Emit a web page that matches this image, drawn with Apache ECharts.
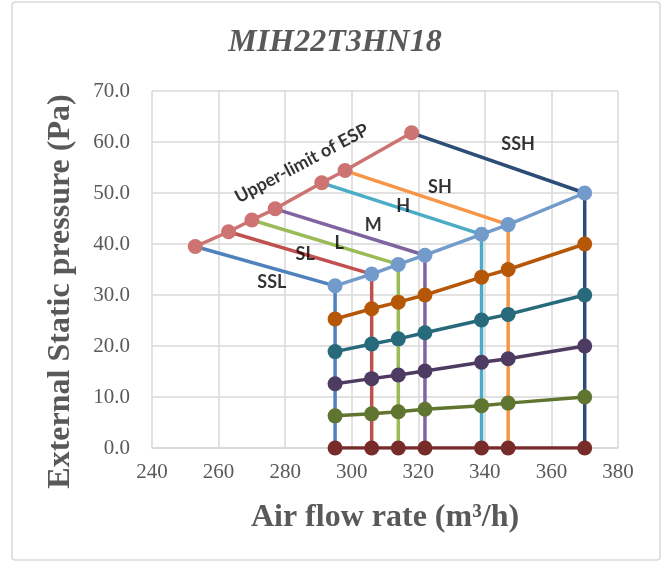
<!DOCTYPE html>
<html>
<head>
<meta charset="utf-8">
<script src="https://cdn.jsdelivr.net/npm/echarts@6/dist/echarts.min.js"></script>
<style>
html, body {margin:0; padding:0; background:#fff;}
#chart {width:670px; height:563px;}
</style>
</head>
<body>
<div id="chart"></div>
<script>
// air flow (m3/h) at each fan step, bottom ends of the speed lines
var flowX = [295, 306, 314, 322, 339, 347, 370]
// upper-limit of ESP points
var upperX = [253, 263, 270, 277, 291, 298, 318]
var upperY = [39.5, 42.4, 44.7, 46.9, 52.0, 54.4, 61.8]
// pressure rows along flowX
var p50 = [31.8, 34.1, 36.0, 37.8, 41.9, 43.8, 50.0]
var p40 = [25.3, 27.3, 28.6, 30.0, 33.5, 35.0, 40.0]
var p30 = [18.9, 20.4, 21.4, 22.6, 25.1, 26.2, 30.0]
var p20 = [12.6, 13.6, 14.3, 15.1, 16.8, 17.5, 20.0]
var p10 = [6.3, 6.7, 7.1, 7.6, 8.3, 8.8, 10.0]
var p0 = [0, 0, 0, 0, 0, 0, 0]

var speeds = ['SSL', 'SL', 'L', 'M', 'H', 'SH', 'SSH']
var speedColors = ['#4F81BD', '#C0504D', '#9BBB59', '#8064A2', '#4BACC6', '#F79646', '#2C4D75']

// annotation positions (data units)
var labelX = [276, 286, 296.2, 306.5, 315.5, 326.5, 350]
var labelY = [32.6, 38.0, 40.2, 43.7, 47.4, 51.1, 59.5]
var espLabel = {text: 'Upper-limit of ESP', x: 285, y: 55.8, rotate: 28}

function pairs(xs, ys){
    var out = []
    for (var i = 0; i < xs.length; i++){
        out.push([xs[i], ys[i]])
    }
    return out
}

var series = []
for (var i = 0; i < speeds.length; i++){
    series.push({
        name: speeds[i],
        type: 'line',
        symbol: 'none',
        lineStyle: {width: 3.5, color: speedColors[i]},
        itemStyle: {color: speedColors[i]},
        data: [[upperX[i], upperY[i]], [flowX[i], p50[i]], [flowX[i], p0[i]]]
    })
}

var rows = [
    {name: '0', ys: p0, color: '#772C2A'},
    {name: '10', ys: p10, color: '#5F7530'},
    {name: '20', ys: p20, color: '#4D3B62'},
    {name: '30', ys: p30, color: '#276A7C'},
    {name: '40', ys: p40, color: '#B65708'},
    {name: '50', ys: p50, color: '#729ACA'}
]
for (var r of rows){
    series.push({
        name: r.name,
        type: 'line',
        symbol: 'circle',
        symbolSize: 15,
        lineStyle: {width: 3.5, color: r.color},
        itemStyle: {color: r.color},
        data: pairs(flowX, r.ys)
    })
}

series.push({
    name: 'upper',
    type: 'line',
    symbol: 'circle',
    symbolSize: 15,
    lineStyle: {width: 3.5, color: '#CD7371'},
    itemStyle: {color: '#CD7371'},
    data: pairs(upperX, upperY)
})

var labelData = []
for (var i = 0; i < speeds.length; i++){
    labelData.push({value: [labelX[i], labelY[i]], name: speeds[i]})
}
labelData.push({value: [espLabel.x, espLabel.y], name: espLabel.text, label: {rotate: espLabel.rotate}})

series.push({
    name: 'labels',
    type: 'scatter',
    symbolSize: 0,
    silent: true,
    z: 10,
    label: {
        show: true,
        position: 'inside',
        formatter: '{b}',
        color: '#000',
        fontFamily: 'Lato',
        fontWeight: 'bold',
        fontSize: 18
    },
    data: labelData
})

var axisFont = {fontFamily: 'Liberation Serif', fontSize: 21, color: '#595959'}

var option = {
    animation: false,
    backgroundColor: '#fff',
    title: {
        text: 'MIH22T3HN18',
        left: 'center',
        top: 22,
        textStyle: {fontFamily: 'Liberation Serif', fontStyle: 'italic', fontWeight: 'bold', fontSize: 32, color: '#595959'}
    },
    graphic: [{
        type: 'rect',
        shape: {x: 12, y: 2, width: 648, height: 558, r: 3},
        style: {fill: 'none', stroke: '#d9d9d9', lineWidth: 1.5},
        silent: true,
        z: -1
    }],
    grid: {left: 152, right: 52, top: 91, bottom: 115},
    xAxis: {
        type: 'value',
        min: 240, max: 380, interval: 20,
        name: 'Air flow rate (m³/h)',
        nameLocation: 'middle',
        nameGap: 54,
        nameTextStyle: {fontFamily: 'Liberation Serif', fontWeight: 'bold', fontSize: 32, color: '#595959'},
        axisLine: {show: true, lineStyle: {color: '#d9d9d9', width: 1.5}},
        axisTick: {show: false},
        axisLabel: Object.assign({margin: 14}, axisFont),
        splitLine: {show: true, lineStyle: {color: '#d9d9d9', width: 1.5}}
    },
    yAxis: {
        type: 'value',
        min: 0, max: 70, interval: 10,
        name: 'External Static pressure (Pa)',
        nameLocation: 'middle',
        nameGap: 75,
        nameTextStyle: {fontFamily: 'Liberation Serif', fontWeight: 'bold', fontSize: 32, color: '#595959', padding: [0, 44, 0, 0]},
        axisLine: {show: false},
        axisTick: {show: false},
        axisLabel: Object.assign({margin: 22, formatter: function(v){ return v.toFixed(1) }}, axisFont),
        splitLine: {show: true, lineStyle: {color: '#d9d9d9', width: 1.5}}
    },
    series: series
}

var chart = echarts.init(document.getElementById('chart'))
chart.setOption(option)
</script>
</body>
</html>
